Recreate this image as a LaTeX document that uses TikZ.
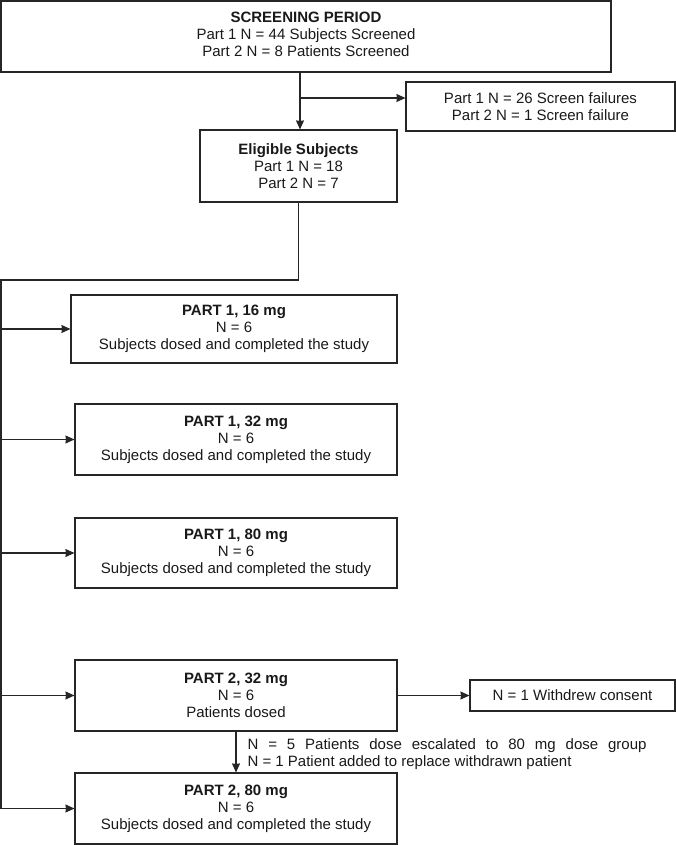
\documentclass[tikz,border=0pt]{standalone}
\usepackage{fontspec}
\setmainfont{Liberation Sans}
\usepackage{xcolor}
\usepackage{tikz}
\usetikzlibrary{arrows.meta}

\begin{document}
\begin{tikzpicture}[x=1pt,y=-1pt,line width=1.1pt,color=black!85,
  >={Stealth[length=9pt,width=8pt,inset=0.5pt]},
  flowbox/.style={rectangle,draw,inner sep=0pt,align=center,text=black!90,font=\fontsize{15}{17}\selectfont}]
\useasboundingbox (0,0) rectangle (676,845);
\node [flowbox,minimum width=610pt,minimum height=71pt] (screening) at (306,36.5)
{\textbf{SCREENING PERIOD}\\Part 1 N = 44 Subjects Screened\\Part 2 N = 8 Patients Screened\vspace{5pt}};
\node [flowbox,minimum width=269pt,minimum height=49pt] (failure) at (540.5,106.5)
{Part 1 N = 26 Screen failures\\Part 2 N = 1 Screen failure};
\node [flowbox,minimum width=197pt,minimum height=72pt] (eligible) at (298.5,166)
{\textbf{Eligible Subjects}\\Part 1 N = 18\\Part 2 N = 7};
\node [flowbox,minimum width=326pt,minimum height=68pt] (dose16) at (234,329)
{\textbf{PART 1, 16 mg}\\N = 6\\Subjects dosed and completed the study};
\node [flowbox,minimum width=322pt,minimum height=71pt] (dose32) at (236,439.5)
{\textbf{PART 1, 32 mg}\\N = 6\\Subjects dosed and completed the study};
\node [flowbox,minimum width=322pt,minimum height=70pt] (dose80) at (236,553)
{\textbf{PART 1, 80 mg}\\N = 6\\Subjects dosed and completed the study};
\node [flowbox,minimum width=322pt,minimum height=71pt] (ptwo32) at (236,695.5)
{\textbf{PART 2, 32 mg}\\N = 6\\Patients dosed};
\node [flowbox,minimum width=205pt,minimum height=31pt] (withdrew) at (572.5,695.5)
{N = 1 Withdrew consent};
\node [flowbox,minimum width=322pt,minimum height=71pt] (ptwo80) at (236,808.5)
{\textbf{PART 2, 80 mg}\\N = 6\\Subjects dosed and completed the study};
\node [anchor=west,inner sep=0pt,text width=399pt,align=justify,text=black!90,font=\fontsize{15}{17}\selectfont] (escalate) at (247,754)
{N = 5 Patients dose escalated to 80 mg dose group\linebreak N = 1 Patient added to replace withdrawn patient};
% corner points of the branches
\coordinate (split) at (300,98);
\coordinate (trunk) at (1,280);
\draw (screening.south -| split)[->] -- (eligible.north -| split);
\draw (split)[->] -- (failure.west |- split);
\draw (eligible.south) |- (trunk) -- (ptwo80.west -| trunk);
\draw (dose16.west -| trunk)[->] -- (dose16.west);
\draw (dose32.west -| trunk)[->] -- (dose32.west);
\draw (dose80.west -| trunk)[->] -- (dose80.west);
\draw (ptwo32.west -| trunk)[->] -- (ptwo32.west);
\draw (ptwo80.west -| trunk)[->] -- (ptwo80.west);
\draw (ptwo32.east)[->] -- (withdrew.west);
\draw (ptwo32.south)[->] -- (ptwo80.north);
\end{tikzpicture}
\end{document}
